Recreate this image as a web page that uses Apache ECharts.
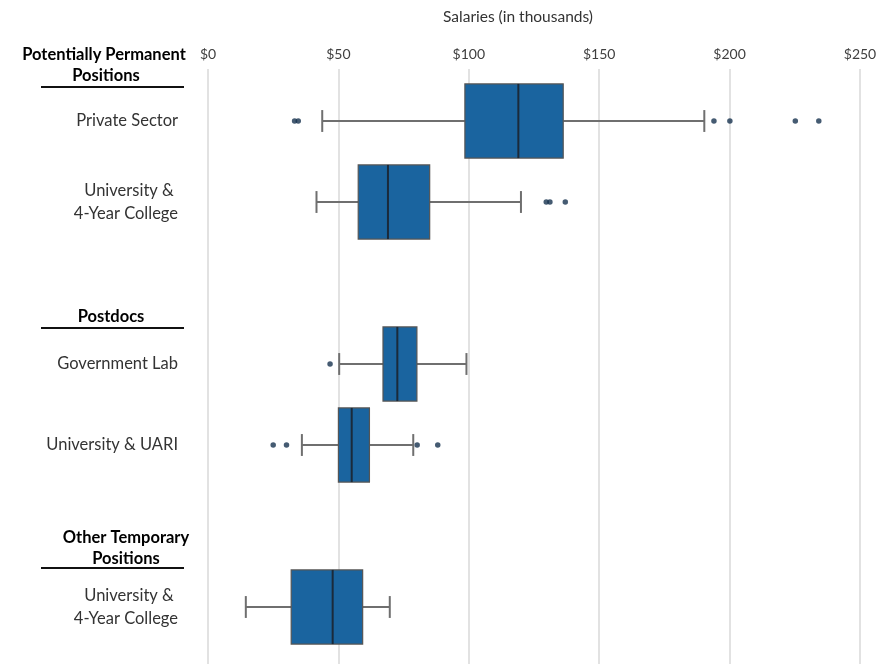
<!DOCTYPE html>
<html>
<head>
<meta charset="utf-8">
<script src="https://cdn.jsdelivr.net/npm/echarts@6/dist/echarts.min.js"></script>
<style>
  html, body { margin: 0; padding: 0; background: #ffffff; }
  #chart { width: 885px; height: 664px; }
</style>
</head>
<body>
<div id="chart"></div>
<script>
// Row labels on the category axis (blank rows separate the groups)
const rowLabels = ['Private Sector', 'University &\u00a0\n4-Year College', '', 'Government Lab', 'University & UARI', '', 'University &\u00a0\n4-Year College'];

// Box summaries (salaries in thousands of dollars), one entry per box
const boxRows     = [0, 1, 3, 4, 6];
const lowWhisker  = [43.8, 41.6, 50.3, 36.0, 14.5];
const q1          = [98.5, 57.6, 67.1, 50.0, 31.9];
const median      = [119.0, 69.0, 72.6, 55.1, 47.8];
const q3          = [136.2, 85.0, 80.1, 61.9, 59.3];
const highWhisker = [190.3, 120.0, 99.1, 78.7, 69.7];

// Individual outliers
const outlierRows   = [0, 0, 0, 0, 0, 0, 1, 1, 1, 3, 4, 4, 4, 4];
const outlierValues = [33.2, 34.6, 194.0, 200.1, 225.2, 234.2, 129.7, 131.1, 137.0, 46.8, 25.0, 30.1, 80.2, 88.1];

// Salary axis
const axisMin = 0, axisMax = 250, axisStep = 50;

// Group headings shown to the left of the rows
const groupHeadings = [
  { lines: ['Potentially Permanent', 'Positions'], x: [104, 106], y: [55, 76], rule: 87 },
  { lines: ['Postdocs'], x: [111], y: [317], rule: 328 },
  { lines: ['Other Temporary', 'Positions'], x: [126, 126], y: [538, 559], rule: 568 }
];

const FONT = 'Lato, "Open Sans", sans-serif';

const boxData = boxRows.map((r, i) => [r, lowWhisker[i], q1[i], median[i], q3[i], highWhisker[i]]);
const outlierData = outlierValues.map((v, i) => [v, outlierRows[i]]);

function renderBox(params, api) {
  const row = api.value(0);
  const lo = api.coord([api.value(1), row]);
  const b1 = api.coord([api.value(2), row]);
  const md = api.coord([api.value(3), row]);
  const b3 = api.coord([api.value(4), row]);
  const hi = api.coord([api.value(5), row]);
  const band = api.size([0, 1])[1];
  const boxH = band * 0.915;
  const capH = band * 0.27;
  const y = lo[1];
  const whisker = { stroke: '#6f6f6f', lineWidth: 2 };
  return {
    type: 'group',
    children: [
      { type: 'line', shape: { x1: lo[0], y1: y, x2: b1[0], y2: y }, style: whisker },
      { type: 'line', shape: { x1: b3[0], y1: y, x2: hi[0], y2: y }, style: whisker },
      { type: 'line', shape: { x1: lo[0], y1: y - capH / 2, x2: lo[0], y2: y + capH / 2 }, style: whisker },
      { type: 'line', shape: { x1: hi[0], y1: y - capH / 2, x2: hi[0], y2: y + capH / 2 }, style: whisker },
      { type: 'rect', shape: { x: b1[0], y: y - boxH / 2, width: b3[0] - b1[0], height: boxH },
        style: { fill: '#1a649f', stroke: '#555555', lineWidth: 1.2 } },
      { type: 'line', shape: { x1: md[0], y1: y - boxH / 2, x2: md[0], y2: y + boxH / 2 },
        style: { stroke: '#1b2a3a', lineWidth: 2 } }
    ]
  };
}

const graphics = [];
groupHeadings.forEach(g => {
  g.lines.forEach((t, i) => {
    graphics.push({
      type: 'text', x: g.x[i], y: g.y[i],
      style: { text: t, font: 'bold 16.5px ' + FONT, fill: '#000000', textAlign: 'center', textVerticalAlign: 'middle' }
    });
  });
  graphics.push({
    type: 'line', shape: { x1: 41, y1: g.rule, x2: 184, y2: g.rule },
    style: { stroke: '#111111', lineWidth: 2 }
  });
});

const chart = echarts.init(document.getElementById('chart'), null, { renderer: 'canvas' });
chart.setOption({
  animation: false,
  backgroundColor: '#ffffff',
  textStyle: { fontFamily: FONT },
  grid: [
    { left: 208, right: 25, top: 69, bottom: 0 },
    { left: 208, right: 25, top: 80.5, height: 567 }
  ],
  xAxis: [
    {
      gridIndex: 0, type: 'value', position: 'top',
      min: axisMin, max: axisMax, interval: axisStep,
      name: 'Salaries (in thousands)', nameLocation: 'middle', nameGap: 44,
      nameTextStyle: { fontSize: 15.5, color: '#333333', fontFamily: FONT, padding: [0, 32, 0, 0] },
      axisLine: { show: false }, axisTick: { show: false },
      axisLabel: { formatter: v => '$' + v, fontSize: 14, color: '#404040', margin: 8, fontFamily: FONT },
      splitLine: { show: true, lineStyle: { color: '#e2e2e2', width: 2 } }
    },
    {
      gridIndex: 1, type: 'value', min: axisMin, max: axisMax, show: false
    }
  ],
  yAxis: [
    {
      gridIndex: 1, type: 'category', data: rowLabels, inverse: true,
      axisLine: { show: false }, axisTick: { show: false },
      axisLabel: { fontSize: 16.5, color: '#333333', margin: 30, lineHeight: 23, fontFamily: FONT, align: 'right' },
      splitLine: { show: false }
    },
    { gridIndex: 0, type: 'value', show: false }
  ],
  graphic: graphics,
  series: [
    {
      type: 'custom', name: 'Salary distribution',
      xAxisIndex: 1, yAxisIndex: 0,
      renderItem: renderBox,
      encode: { x: [1, 2, 3, 4, 5], y: 0 },
      data: boxData,
      z: 2
    },
    {
      type: 'scatter', name: 'Outliers',
      xAxisIndex: 1, yAxisIndex: 0,
      symbol: 'circle', symbolSize: 5.5,
      itemStyle: { color: '#17324f' },
      data: outlierData,
      z: 3
    }
  ]
});
</script>
</body>
</html>
